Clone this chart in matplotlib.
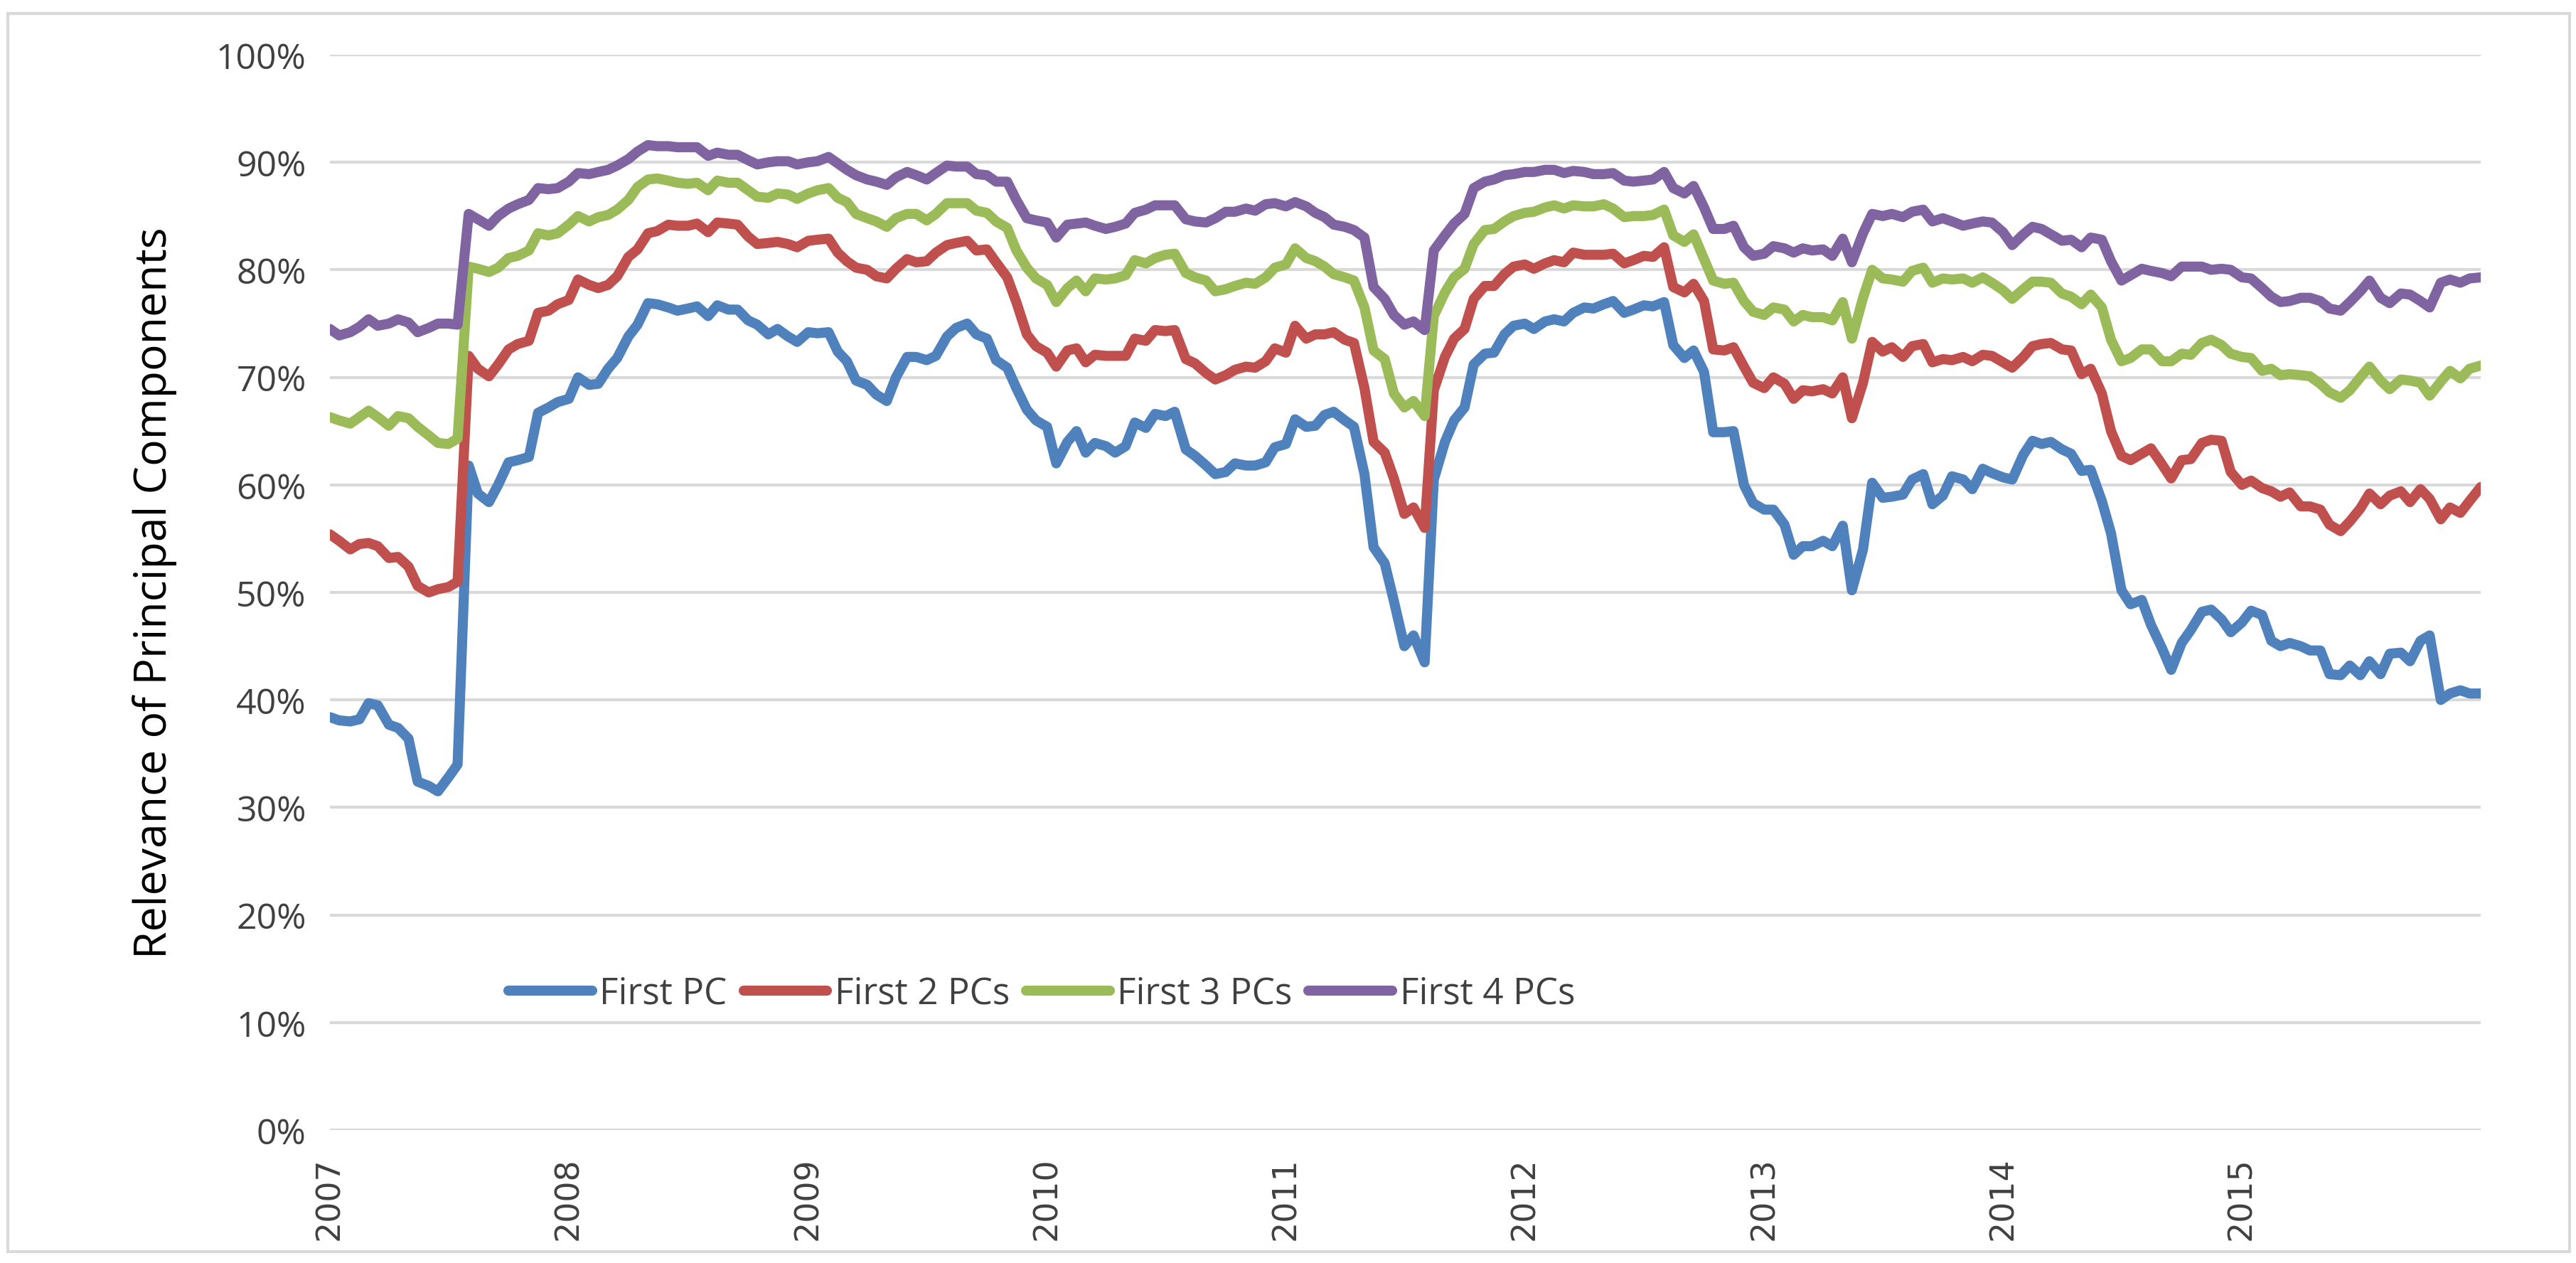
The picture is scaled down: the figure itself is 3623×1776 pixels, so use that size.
import numpy as np
import pandas as pd
import matplotlib
matplotlib.use("Agg")
import matplotlib.pyplot as plt
import matplotlib.dates as mdates
from matplotlib.patches import Rectangle

# semi-monthly sampling, Jan 2007 - Jan 2016 (217 points)
dates = pd.date_range("2007-01-01", periods=217, freq="SMS")

first_pc = [
    38.4, 38.1, 38.0, 38.2, 39.7, 39.5, 37.7, 37.4, 36.4, 32.4,
    32.0, 31.5, 32.8, 34.0, 61.8, 59.2, 58.4, 60.0, 62.1, 62.3,
    62.6, 66.7, 67.2, 67.7, 68.0, 70.0, 69.3, 69.4, 70.8, 71.8,
    73.8, 74.9, 76.9, 76.8, 76.5, 76.2,
    76.4, 76.6, 75.7, 76.7, 76.3, 76.3, 75.3, 74.9, 74.0, 74.5,
    73.8, 73.3, 74.2, 74.1, 74.2, 72.4, 71.5, 69.7, 69.3, 68.4,
    67.8, 70.0, 71.9, 71.9, 71.6, 72.0, 73.8, 74.6, 75.0, 74.0,
    73.6, 71.6, 70.9, 69.0, 67.0, 66.0,
    65.4, 62.0, 64.0, 65.0, 63.0, 63.9, 63.6, 63.0, 63.6, 65.8,
    65.3, 66.6, 66.4, 66.8, 63.3, 62.7, 61.8, 61.0, 61.2, 62.0,
    61.8, 61.8, 62.1, 63.5, 63.8, 66.1, 65.4, 65.5, 66.5, 66.8,
    66.0, 65.4, 61.0, 54.2,
    52.7,
    49.2, 45.0, 46.0, 43.5, 60.5, 64.0, 66.0, 67.2, 71.2, 72.2,
    72.3, 74.0, 74.8, 75.0, 74.5, 75.2, 75.4, 75.2, 76.0, 76.5,
    76.4, 76.8, 77.1, 76.0, 76.3, 76.7, 76.6, 77.0, 73.0, 71.8,
    72.5, 70.5, 64.9, 64.9, 65.0,
    60.0,
    58.3, 57.7, 57.7, 56.3, 53.5, 54.3, 54.3, 54.8, 54.3, 56.2,
    50.2, 54.0, 60.2, 58.8, 58.9, 59.1, 60.5, 61.0, 58.2, 59.0,
    60.8, 60.5, 59.6, 61.5, 61.1, 60.7, 60.5, 62.8, 64.1, 63.8,
    64.0, 63.3, 62.9, 61.3, 61.4,
    58.5,
    55.5, 50.2, 48.9, 49.3, 47.0, 44.8, 42.8, 45.3, 46.5, 48.2,
    48.4, 47.5, 46.3, 47.2, 48.3, 47.9, 45.5, 45.0, 45.3, 45.0,
    44.6, 44.6, 42.4, 42.3, 43.2, 42.3, 43.6, 42.4, 44.3, 44.4,
    43.6, 45.5, 46.0, 40.0, 40.6, 40.9, 40.6, 40.6,
]

first_2_pcs = [
    55.4, 54.8, 54.0, 54.5, 54.6, 54.3, 53.2, 53.3, 52.4, 50.6,
    50.0, 50.3, 50.5, 51.0, 72.0, 70.8, 70.1, 71.2, 72.6, 73.1,
    73.4, 76.0, 76.2, 76.8, 77.2, 79.1, 78.6, 78.3, 78.6, 79.4,
    81.2, 81.9, 83.4, 83.6, 84.2, 84.1,
    84.1, 84.3, 83.5, 84.4, 84.3, 84.2, 83.1, 82.4, 82.5, 82.6,
    82.4, 82.1, 82.7, 82.8, 82.9, 81.6, 80.8, 80.2, 80.0, 79.4,
    79.2, 80.1, 81.0, 80.7, 80.8, 81.6, 82.3, 82.5, 82.7, 81.8,
    81.9, 80.7, 79.3, 77.0, 74.0, 72.9,
    72.3, 71.0, 72.5, 72.7, 71.4, 72.1, 72.0, 72.0, 72.0, 73.6,
    73.4, 74.4, 74.3, 74.4, 71.7, 71.3, 70.4, 69.8, 70.2, 70.7,
    71.0, 70.9, 71.5, 72.7, 72.3, 74.8, 73.6, 74.0, 74.0, 74.2,
    73.5, 73.2, 69.0, 64.0,
    63.0,
    60.6, 57.3, 57.9, 56.0, 68.8, 71.9, 73.6, 74.5, 77.3, 78.5,
    78.5, 79.6, 80.3, 80.5, 80.1, 80.6, 80.9, 80.7, 81.6, 81.4,
    81.4, 81.4, 81.5, 80.6, 80.9, 81.3, 81.2, 82.1, 78.4, 77.9,
    78.7, 77.1, 72.6, 72.5, 72.8,
    71.0,
    69.5, 69.0, 70.0, 69.4, 68.0, 68.8, 68.7, 68.9, 68.5, 70.0,
    66.2, 69.5, 73.3, 72.4, 72.8, 71.9, 72.9, 73.1, 71.4, 71.7,
    71.6, 71.9, 71.5, 72.1, 72.0, 71.4, 70.9, 71.9, 72.9, 73.1,
    73.2, 72.6, 72.5, 70.3, 70.8,
    68.5,
    65.0, 62.7, 62.3, 62.9, 63.4, 61.9, 60.6, 62.3, 62.4, 63.9,
    64.2, 64.1, 61.2, 60.0, 60.4, 59.7, 59.4, 58.9, 59.3, 58.0,
    58.0, 57.7, 56.3, 55.7, 56.6, 57.8, 59.2, 58.2, 59.0, 59.4,
    58.4, 59.6, 58.7, 56.8, 57.9, 57.4, 58.5, 59.8,
]

first_3_pcs = [
    66.3, 66.0, 65.7, 66.3, 66.9, 66.3, 65.5, 66.4, 66.2, 65.4,
    64.6, 63.9, 63.8, 64.3, 80.3, 80.1, 79.8, 80.2, 81.1, 81.3,
    81.8, 83.4, 83.2, 83.4, 84.2, 85.0, 84.5, 84.9, 85.1, 85.6,
    86.5, 87.7, 88.4, 88.5, 88.3, 88.1,
    88.0, 88.1, 87.4, 88.3, 88.1, 88.1, 87.4, 86.8, 86.7, 87.1,
    87.0, 86.6, 87.1, 87.4, 87.6, 86.7, 86.3, 85.2, 84.8, 84.5,
    84.0, 84.8, 85.2, 85.2, 84.6, 85.2, 86.2, 86.2, 86.2, 85.5,
    85.3, 84.5, 83.9, 81.8, 80.2, 79.2,
    78.6, 77.0, 78.3, 79.0, 78.0, 79.2, 79.1, 79.2, 79.5, 80.9,
    80.6, 81.1, 81.4, 81.5, 79.7, 79.3, 79.0, 78.0, 78.2, 78.5,
    78.8, 78.7, 79.3, 80.2, 80.5, 82.0, 81.1, 80.8, 80.3, 79.6,
    79.3, 79.0, 76.5, 72.5,
    71.7,
    68.5, 67.2, 67.8, 66.4, 75.7, 77.9, 79.3, 80.1, 82.4, 83.7,
    83.8, 84.5, 85.0, 85.3, 85.4, 85.8, 86.0, 85.7, 86.0, 85.9,
    85.9, 86.1, 85.7, 84.9, 85.0, 85.0, 85.1, 85.6, 83.2, 82.6,
    83.3, 81.0, 79.0, 78.7, 78.8,
    77.1,
    76.1, 75.8, 76.5, 76.3, 75.2, 75.8, 75.6, 75.6, 75.3, 77.0,
    73.6, 77.4, 80.0, 79.2, 79.1, 78.9, 79.9, 80.2, 78.8, 79.2,
    79.1, 79.2, 78.8, 79.3, 78.8, 78.1, 77.3, 78.2, 78.9, 78.9,
    78.8, 77.8, 77.5, 76.8, 77.7,
    76.5,
    73.5, 71.5, 71.8, 72.6, 72.6, 71.5, 71.5, 72.2, 72.1, 73.2,
    73.5, 73.0, 72.2, 71.9, 71.8, 70.6, 70.8, 70.2, 70.3, 70.2,
    70.1, 69.4, 68.6, 68.1, 68.8, 70.0, 71.0, 69.7, 68.9, 69.8,
    69.7, 69.5, 68.3, 69.6, 70.6, 69.9, 70.8, 71.1,
]

first_4_pcs = [
    74.5, 73.9, 74.2, 74.7, 75.4, 74.8, 75.0, 75.4, 75.1, 74.2,
    74.6, 75.0, 75.0, 74.9, 85.2, 84.7, 84.1, 85.0, 85.7, 86.1,
    86.5, 87.6, 87.5, 87.6, 88.2, 89.0, 88.9, 89.1, 89.3, 89.7,
    90.3, 91.0, 91.6, 91.5, 91.5, 91.4,
    91.4, 91.4, 90.6, 90.9, 90.7, 90.7, 90.2, 89.8, 90.0, 90.1,
    90.1, 89.8, 90.0, 90.1, 90.5, 89.9, 89.3, 88.8, 88.4, 88.2,
    87.9, 88.6, 89.1, 88.8, 88.4, 89.0, 89.7, 89.6, 89.6, 88.9,
    88.8, 88.2, 88.2, 86.5, 84.8, 84.6,
    84.4, 83.0, 84.2, 84.3, 84.4, 84.1, 83.8, 84.0, 84.3, 85.3,
    85.6, 86.0, 86.0, 86.0, 84.7, 84.5, 84.4, 84.8, 85.4, 85.4,
    85.7, 85.5, 86.1, 86.2, 85.9, 86.3, 85.9, 85.3, 84.9, 84.2,
    84.0, 83.7, 83.0, 78.4,
    77.3,
    75.8, 74.9, 75.2, 74.4, 81.8, 83.2, 84.3, 85.2, 87.6, 88.2,
    88.4, 88.8, 88.9, 89.1, 89.1, 89.3, 89.3, 89.0, 89.2, 89.1,
    88.9, 88.9, 89.0, 88.3, 88.2, 88.3, 88.4, 89.1, 87.6, 87.1,
    87.8, 85.8, 83.8, 83.8, 84.1,
    82.1,
    81.3, 81.5, 82.2, 82.0, 81.6, 82.0, 81.8, 81.9, 81.3, 82.9,
    80.7, 83.4, 85.2, 85.0, 85.2, 84.9, 85.4, 85.6, 84.5, 84.8,
    84.5, 84.1, 84.3, 84.5, 84.4, 83.5, 82.3, 83.3, 84.0, 83.8,
    83.3, 82.7, 82.8, 82.1, 83.0,
    82.8,
    80.8, 79.0, 79.5, 80.1, 79.9, 79.7, 79.4, 80.3, 80.3, 80.3,
    80.0, 80.1, 80.0, 79.3, 79.2, 78.3, 77.5, 77.0, 77.1, 77.4,
    77.4, 77.1, 76.4, 76.2, 77.0, 78.0, 79.0, 77.4, 76.9, 77.8,
    77.7, 77.1, 76.5, 78.8, 79.1, 78.8, 79.2, 79.3,
]

labels = ["First PC", "First 2 PCs", "First 3 PCs", "First 4 PCs"]
colors = ["#4F81BD", "#C0504D", "#9BBB59", "#8064A2"]
series = [first_pc, first_2_pcs, first_3_pcs, first_4_pcs]

narrow = ["Liberation Sans Narrow", "Open Sans", "DejaVu Sans"]

fig = plt.figure(figsize=(3623 / 300, 1777 / 300), dpi=300)
ax = fig.add_axes([0.1281, 0.1052, 0.8349, 0.8509])

for vals, lab, col in zip(series, labels, colors):
    ax.plot(dates, vals, color=col, lw=3.4, label=lab,
            solid_joinstyle="round", solid_capstyle="round")

ax.set_ylim(0, 100)
ax.set_yticks(np.arange(0, 101, 10))
ax.set_yticklabels([f"{v}%" for v in range(0, 101, 10)],
                   family=narrow, fontsize=12, color="#404040")
ax.set_xlim(pd.Timestamp("2007-01-01"), pd.Timestamp("2016-01-01"))
years = [pd.Timestamp(f"{y}-01-01") for y in range(2007, 2016)]
ax.set_xticks(years)
ax.set_xticklabels([str(y) for y in range(2007, 2016)], rotation=90,
                   family="DejaVu Sans", fontsize=11, color="#404040")

ax.grid(axis="y", color="#D9D9D9", lw=1.0)
ax.set_axisbelow(True)
for s in ax.spines.values():
    s.set_visible(False)
ax.tick_params(length=0)
ax.tick_params(axis="y", pad=8)
ax.tick_params(axis="x", pad=9)

fig.text(0.06, 0.5307, "Relevance of Principal Components", rotation=90,
         ha="center", va="center", family="Open Sans", fontsize=15)

ax.legend(loc="center left", bbox_to_anchor=(0.083, 0.127), ncol=4,
          frameon=False, handlelength=2.3, handletextpad=0.2,
          columnspacing=0.45, borderpad=0, borderaxespad=0,
          prop={"family": narrow, "size": 12.3}, labelcolor="#404040")

fig.patches.append(Rectangle((0.003, 0.009), 0.9945, 0.98,
                             transform=fig.transFigure, fill=False,
                             edgecolor="#D9D9D9", lw=1.0))

plt.savefig("out.png", dpi=300)
